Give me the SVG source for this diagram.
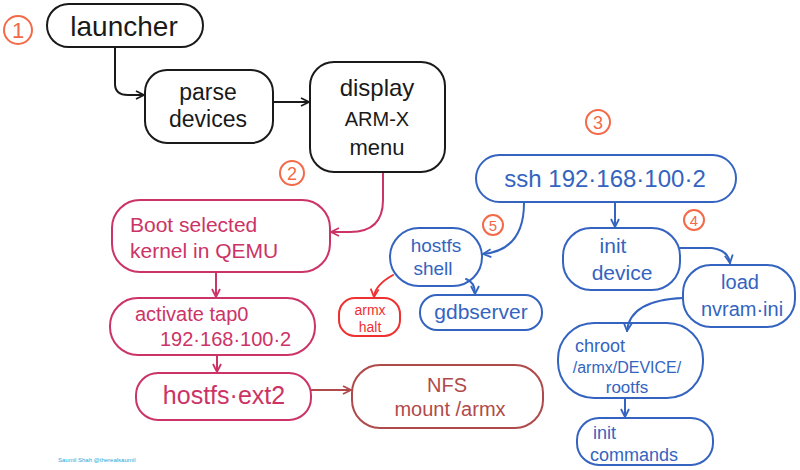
<svg xmlns="http://www.w3.org/2000/svg" width="800" height="470" viewBox="0 0 800 470">
<defs>
<style>
.n{fill:none;stroke-width:2;stroke-linejoin:round}
.k{stroke:#1a1a1a}.p{stroke:#cc3366}.b{stroke:#3464c0}.r{stroke:#f03030}.m{stroke:#b04a4a}.o{stroke:#f46a48;fill:none;stroke-width:2}
text{font-family:"Liberation Sans",Arial,sans-serif}
.tk{fill:#1a1a1a}.tp{fill:#cc3366}.tb{fill:#3464c0}.tr{fill:#f03030}.tm{fill:#b04a4a}.to{fill:#f46a48}
.c{stroke-width:2;fill:none;stroke-linecap:round}
</style>
<marker id="ak" viewBox="0 0 10 10" refX="9" refY="5" markerWidth="10" markerHeight="10" markerUnits="userSpaceOnUse" orient="auto"><path d="M1,1 L9,5 L1,9" fill="none" stroke="#1a1a1a" stroke-width="1.8"/></marker>
<marker id="ap" viewBox="0 0 10 10" refX="9" refY="5" markerWidth="10" markerHeight="10" markerUnits="userSpaceOnUse" orient="auto"><path d="M1,1 L9,5 L1,9" fill="none" stroke="#cc3366" stroke-width="1.8"/></marker>
<marker id="ab" viewBox="0 0 10 10" refX="9" refY="5" markerWidth="10" markerHeight="10" markerUnits="userSpaceOnUse" orient="auto"><path d="M1,1 L9,5 L1,9" fill="none" stroke="#3464c0" stroke-width="1.8"/></marker>
<marker id="ar" viewBox="0 0 10 10" refX="9" refY="5" markerWidth="10" markerHeight="10" markerUnits="userSpaceOnUse" orient="auto"><path d="M1,1 L9,5 L1,9" fill="none" stroke="#f03030" stroke-width="1.8"/></marker>
<marker id="am" viewBox="0 0 10 10" refX="9" refY="5" markerWidth="10" markerHeight="10" markerUnits="userSpaceOnUse" orient="auto"><path d="M1,1 L9,5 L1,9" fill="none" stroke="#b04a4a" stroke-width="1.8"/></marker>
</defs>
<rect width="800" height="470" fill="#ffffff"/>

<g id="badges">
<circle class="o" cx="18" cy="30" r="14"/><text class="to" x="18" y="38" font-size="22" text-anchor="middle">1</text>
<circle class="o" cx="292" cy="173" r="12"/><text class="to" x="292" y="179.5" font-size="18" text-anchor="middle">2</text>
<circle class="o" cx="598" cy="122" r="12"/><text class="to" x="598" y="128.5" font-size="18" text-anchor="middle">3</text>
<circle class="o" cx="694" cy="220" r="10"/><text class="to" x="694" y="225.5" font-size="15" text-anchor="middle">4</text>
<circle class="o" cx="493" cy="225" r="10"/><text class="to" x="493" y="230.5" font-size="15" text-anchor="middle">5</text>
</g>

<g id="connectors">
<path class="c k" d="M115,48 L115,84 Q115,95 128,95 L144,95" marker-end="url(#ak)"/>
<path class="c k" d="M273,102 L309,102" marker-end="url(#ak)"/>
<path class="c p" d="M383,173 L383,200 Q383,232 350,232 L331,232" marker-end="url(#ap)"/>
<path class="c p" d="M216,272 L216,297" marker-end="url(#ap)"/>
<path class="c p" d="M217,355 L217,372" marker-end="url(#ap)"/>
<path class="c m" d="M311,390 L351,390" marker-end="url(#am)"/>
<path class="c b" d="M524,203 Q524,250 483,254" marker-end="url(#ab)"/>
<path class="c b" d="M615,203 L615,227" marker-end="url(#ab)"/>
<path class="c r" d="M393,275 Q375,285 374,297" marker-end="url(#ar)"/>
<path class="c b" d="M466,279 Q475,282 475,294" marker-end="url(#ab)"/>
<path class="c b" d="M680,248 L712,248 Q728,250 730,263" marker-end="url(#ab)"/>
<path class="c b" d="M683,298 Q630,300 627,331" marker-end="url(#ab)"/>
<path class="c b" d="M625,398 L625,417" marker-end="url(#ab)"/>
</g>

<g id="launcher">
<rect class="n k" x="47" y="4" width="156" height="43" rx="21.5"/>
<text class="tk" x="124" y="36" font-size="28" text-anchor="middle">launcher</text>
</g>
<g id="parse">
<rect class="n k" x="145" y="70" width="128" height="73" rx="22"/>
<text class="tk" x="208" y="100" font-size="23" text-anchor="middle">parse</text>
<text class="tk" x="208" y="127" font-size="23" text-anchor="middle">devices</text>
</g>
<g id="display">
<rect class="n k" x="310" y="62" width="135" height="110" rx="24"/>
<text class="tk" x="377" y="96" font-size="24" text-anchor="middle">display</text>
<text class="tk" x="377" y="126" font-size="20" text-anchor="middle">ARM-X</text>
<text class="tk" x="377" y="155" font-size="22" text-anchor="middle">menu</text>
</g>
<g id="boot">
<rect class="n p" x="112" y="200" width="218" height="72" rx="28"/>
<text class="tp" x="130" y="232" font-size="21">Boot selected</text>
<text class="tp" x="130" y="258" font-size="21">kernel in QEMU</text>
</g>
<g id="activate">
<rect class="n p" x="110" y="298" width="205" height="57" rx="28"/>
<text class="tp" x="135" y="321" font-size="20">activate tap0</text>
<text class="tp" x="160" y="346" font-size="20">192·168·100·2</text>
</g>
<g id="hostfsext2">
<rect class="n p" x="136" y="373" width="175" height="47" rx="22"/>
<text class="tp" x="224" y="404" font-size="25" text-anchor="middle">hostfs·ext2</text>
</g>
<g id="nfs">
<rect class="n m" x="352" y="365" width="191" height="63" rx="28"/>
<text class="tm" x="447" y="392" font-size="20" text-anchor="middle">NFS</text>
<text class="tm" x="450" y="416" font-size="20" text-anchor="middle">mount /armx</text>
</g>
<g id="ssh">
<rect class="n b" x="476" y="155" width="260" height="47" rx="23.5"/>
<text class="tb" x="605" y="187" font-size="24" text-anchor="middle">ssh 192·168·100·2</text>
</g>
<g id="hostfsshell">
<rect class="n b" x="390" y="228" width="92" height="58" rx="29"/>
<text class="tb" x="436" y="252" font-size="19" text-anchor="middle">hostfs</text>
<text class="tb" x="433" y="275" font-size="19" text-anchor="middle">shell</text>
</g>
<g id="armxhalt">
<rect class="n r" x="339" y="298" width="61" height="38" rx="16"/>
<text class="tr" x="370" y="315" font-size="14" text-anchor="middle">armx</text>
<text class="tr" x="370" y="332" font-size="14" text-anchor="middle">halt</text>
</g>
<g id="gdbserver">
<rect class="n b" x="420" y="295" width="122" height="35" rx="17"/>
<text class="tb" x="481" y="319" font-size="21" text-anchor="middle">gdbserver</text>
</g>
<g id="initdevice">
<rect class="n b" x="563" y="228" width="117" height="62" rx="28"/>
<text class="tb" x="613" y="253" font-size="21" text-anchor="middle">init</text>
<text class="tb" x="622" y="280" font-size="21" text-anchor="middle">device</text>
</g>
<g id="load">
<rect class="n b" x="683" y="265" width="112" height="62" rx="28"/>
<text class="tb" x="740" y="289" font-size="20" text-anchor="middle">load</text>
<text class="tb" x="742" y="316" font-size="20" text-anchor="middle">nvram·ini</text>
</g>
<g id="chroot">
<rect class="n b" x="558" y="323" width="145" height="75" rx="36"/>
<text class="tb" x="600" y="352" font-size="18" text-anchor="middle">chroot</text>
<text class="tb" x="627" y="373" font-size="16" text-anchor="middle">/armx/DEVICE/</text>
<text class="tb" x="627" y="393" font-size="17" text-anchor="middle">rootfs</text>
</g>
<g id="initcommands">
<rect class="n b" x="577" y="418" width="136" height="47" rx="22"/>
<text class="tb" x="593" y="439" font-size="18">init</text>
<text class="tb" x="590" y="461" font-size="18">commands</text>
</g>
<text x="58" y="462" font-size="6" fill="#22aadd" font-family="Liberation Sans,sans-serif">Saumil Shah @therealsaumil</text>
</svg>
